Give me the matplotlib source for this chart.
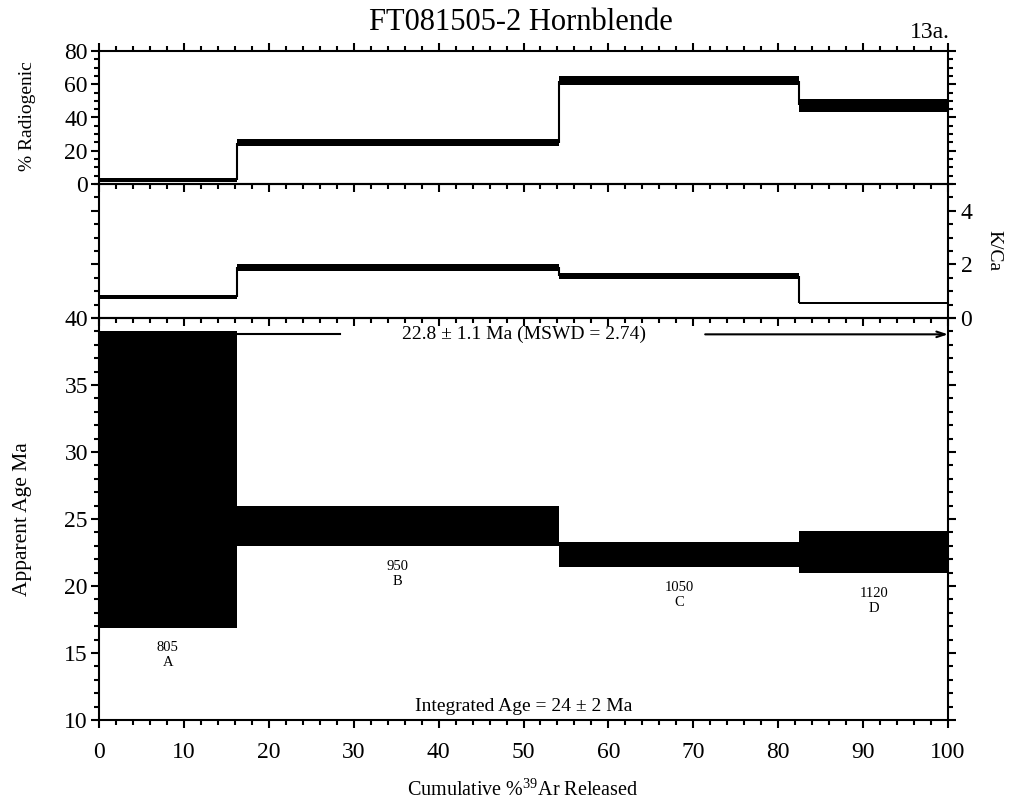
import numpy as np
import matplotlib.pyplot as plt
from matplotlib.ticker import MultipleLocator

plt.rcParams['font.family'] = ['Liberation Serif', 'DejaVu Serif']
plt.rcParams['mathtext.fontset'] = 'custom'
plt.rcParams['mathtext.rm'] = 'Liberation Serif'

# heating steps, cumulative % 39Ar at step boundaries
edges = [0, 16.2, 54.2, 82.5, 100]
steps = ['A', 'B', 'C', 'D']
temps = ['805', '950', '1050', '1120']

# % radiogenic (band low / high)
rad_lo = [1.4, 23.0, 59.5, 43.5]
rad_hi = [3.8, 26.8, 65.0, 51.0]

# K/Ca (band low / high)
kca_lo = [0.71, 1.76, 1.45, 0.52]
kca_hi = [0.86, 2.02, 1.67, 0.61]

# apparent age Ma (band low / high)
age_lo = [16.9, 23.0, 21.4, 20.95]
age_hi = [39.05, 25.95, 23.25, 24.1]

plateau_first = 1  # plateau spans steps B..D
plateau_text = '22.8 ± 1.1 Ma (MSWD = 2.74)'
integrated_text = 'Integrated Age = 24 ± 2 Ma'

W, H = 1013, 806
fig = plt.figure(figsize=(W / 100, H / 100), dpi=100)


def px_axes(x0, y0, x1, y1):
    # axes from pixel box (top-left origin)
    ax = fig.add_axes([x0 / W, 1 - y1 / H, (x1 - x0) / W, (y1 - y0) / H])
    ax.set_facecolor('none')
    for s in ax.spines.values():
        s.set_linewidth(1.5)
    ax.set_xlim(0, 100)
    ax.xaxis.set_major_locator(MultipleLocator(10))
    ax.xaxis.set_minor_locator(MultipleLocator(2))
    ax.tick_params(which='both', direction='out', width=1.5, labelsize=17)
    ax.tick_params(which='major', length=6)
    ax.tick_params(which='minor', length=3.5)
    return ax


def draw_bands(ax, lo, hi, connect=True):
    lo = np.array(lo)
    hi = np.array(hi)
    x0 = np.array(edges[:-1])
    w = np.diff(edges)
    ax.bar(x0, hi - lo, bottom=lo, width=w, align='edge', color='black', linewidth=0)
    if connect:
        mid = (lo + hi) / 2
        for i in range(len(mid) - 1):
            ax.vlines(edges[i + 1], min(mid[i], mid[i + 1]), max(mid[i], mid[i + 1]),
                      color='black', lw=1.5)


ax1 = px_axes(99, 51, 948, 184)
ax2 = px_axes(99, 184, 948, 318)
ax3 = px_axes(99, 318, 948, 720)

# top panel: % radiogenic
draw_bands(ax1, rad_lo, rad_hi)
ax1.set_ylim(0, 80)
ax1.yaxis.set_major_locator(MultipleLocator(20))
ax1.yaxis.set_minor_locator(MultipleLocator(5))
ax1.tick_params(axis='x', which='both', top=True, bottom=True, labelbottom=False)
ax1.tick_params(axis='y', which='both', left=True, right=True, pad=2)

# middle panel: K/Ca
draw_bands(ax2, kca_lo, kca_hi)
ax2.set_ylim(0, 5)
ax2.yaxis.set_major_locator(MultipleLocator(2))
ax2.yaxis.set_minor_locator(MultipleLocator(0.5))
ax2.tick_params(axis='x', which='both', top=False, bottom=True, labelbottom=False)
ax2.tick_params(axis='y', which='both', left=True, right=True, labelleft=False,
                labelright=True, pad=3)

# bottom panel: apparent age
draw_bands(ax3, age_lo, age_hi, connect=False)
ax3.set_ylim(10, 40)
ax3.yaxis.set_major_locator(MultipleLocator(5))
ax3.yaxis.set_minor_locator(MultipleLocator(1))
ax3.tick_params(axis='x', which='both', top=False, bottom=True, pad=10)
ax3.tick_params(axis='y', which='both', left=True, right=True, pad=2)

# step labels
centers = [(edges[i] + edges[i + 1]) / 2 for i in range(len(steps))]
for c, lo, t, s in zip(centers, age_lo, temps, steps):
    ax3.annotate(t + '\n' + s, xy=(c, lo), xytext=(0, -10), textcoords='offset points',
                 ha='center', va='top', fontsize=10.5, linespacing=1.2)

# plateau indicator
py = 38.78
ax3.plot([edges[plateau_first], 28.4], [py, py], color='black', lw=1.5)
ax3.annotate('', xy=(edges[-1], py), xytext=(71.4, py),
             arrowprops=dict(arrowstyle='->,head_length=0.6,head_width=0.2', lw=1.5,
                             color='black', shrinkA=0, shrinkB=0))
ax3.text(50, py, plateau_text, ha='center', va='center', fontsize=14)
ax3.text(50, 11.0, integrated_text, ha='center', va='center', fontsize=14)

# titles and axis labels
fig.text(521 / W, 1 - 22 / H, 'FT081505-2 Hornblende', ha='center', va='center', fontsize=22)
fig.text(950 / W, 1 - 32 / H, '13a.', ha='right', va='center', fontsize=17)
fig.text(28 / W, 1 - 116 / H, '% Radiogenic', rotation=90, ha='center', va='center', fontsize=14)
fig.text(994 / W, 1 - 251 / H, 'K/Ca', rotation=-90, ha='center', va='center', fontsize=14)
fig.text(22 / W, 1 - 519 / H, 'Apparent Age Ma', rotation=90, ha='center', va='center', fontsize=15.5)
fig.text(523 / W, 1 - 790 / H, 'Cumulative %$^{39}$Ar Released', ha='center', va='center', fontsize=14.5)

fig.savefig('out.png', dpi=100)
